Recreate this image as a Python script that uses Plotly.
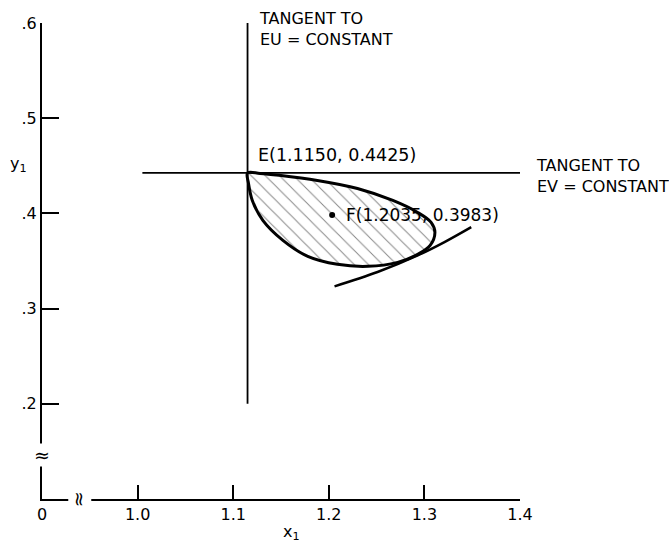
import plotly.graph_objects as go

# ---- data ----
x_tick_vals = [0.9, 1.0, 1.1, 1.2, 1.3, 1.4]
x_tick_text = ["0", "1.0", "1.1", "1.2", "1.3", "1.4"]
y_tick_vals = [0.2, 0.3, 0.4, 0.5, 0.6]
y_tick_text = [".2", ".3", ".4", ".5", ".6"]

point_E = (1.1150, 0.4425)
point_F = (1.2035, 0.3983)

# tangent to EU = constant (vertical) and EV = constant (horizontal)
eu_tangent_x = [1.115, 1.115]
eu_tangent_y = [0.200, 0.605]
ev_tangent_x = [1.005, 1.404]
ev_tangent_y = [0.4425, 0.4425]

# boundary of the shaded (feasible) region, clockwise from E
region_x = [1.115, 1.128, 1.148, 1.188, 1.230, 1.267, 1.293, 1.307, 1.311, 1.306,
            1.293, 1.272, 1.241, 1.209, 1.178, 1.152, 1.131, 1.120, 1.116, 1.115]
region_y = [0.4425, 0.4420, 0.4400, 0.4346, 0.4262, 0.4136, 0.4010, 0.3906, 0.3801,
            0.3664, 0.3570, 0.3486, 0.3444, 0.3465, 0.3549, 0.3717, 0.3927,
            0.4136, 0.4315, 0.4425]

# lower curve tangent to the region
curve_x = [1.206, 1.251, 1.293, 1.321, 1.349]
curve_y = [0.3234, 0.3384, 0.3559, 0.3699, 0.3856]

FONT = "DejaVu Sans"

fig = go.Figure()

fig.add_trace(go.Scatter(
    x=region_x, y=region_y, mode="lines", fill="toself",
    fillcolor="rgba(0,0,0,0)",
    fillpattern=dict(shape="\\", size=10, solidity=0.1, fgcolor="#111",
                     bgcolor="rgba(255,255,255,0)"),
    line=dict(color="black", width=3, shape="spline", smoothing=1.0),
    hoverinfo="skip", showlegend=False))

fig.add_trace(go.Scatter(
    x=curve_x, y=curve_y, mode="lines",
    line=dict(color="black", width=2.5, shape="spline"),
    showlegend=False))

fig.add_trace(go.Scatter(
    x=eu_tangent_x, y=eu_tangent_y, mode="lines",
    line=dict(color="black", width=1.8), showlegend=False, cliponaxis=False))
fig.add_trace(go.Scatter(
    x=ev_tangent_x, y=ev_tangent_y, mode="lines",
    line=dict(color="black", width=1.8), showlegend=False, cliponaxis=False))

fig.add_trace(go.Scatter(
    x=[point_F[0]], y=[point_F[1]], mode="markers",
    marker=dict(color="black", size=6), showlegend=False))

ann = []
ann.append(dict(x=0.450, y=1.0335, xref="paper", yref="paper", xanchor="left", yanchor="top",
                align="left", showarrow=False,
                text="TANGENT TO<br>EU = CONSTANT",
                font=dict(family=FONT, size=16, color="black")))
ann.append(dict(x=1.029, y=0.6786, xref="paper", yref="paper", xanchor="left", yanchor="middle",
                align="left", showarrow=False,
                text="TANGENT TO<br>EV = CONSTANT",
                font=dict(family=FONT, size=16, color="black")))
ann.append(dict(x=1.124, y=0.461, xref="x", yref="y", xanchor="left", yanchor="middle",
                showarrow=False,
                text="E(%.4f, %.4f)" % point_E,
                font=dict(family=FONT, size=17.5, color="black")))
ann.append(dict(x=1.2155, y=0.398, xref="x", yref="y", xanchor="left", yanchor="middle",
                showarrow=False,
                text="F(%.4f, %.4f)" % point_F,
                font=dict(family=FONT, size=17, color="black")))
# axis titles
ann.append(dict(x=-0.050, y=0.7017, xref="paper", yref="paper", xanchor="center", yanchor="middle",
                showarrow=False, text="y<sub>1</sub>",
                font=dict(family=FONT, size=16, color="black")))
ann.append(dict(x=0.523, y=-0.0714, xref="paper", yref="paper", xanchor="center", yanchor="middle",
                showarrow=False, text="x<sub>1</sub>",
                font=dict(family=FONT, size=16, color="black")))
# axis breaks
ann.append(dict(x=0.9, y=0.146, xref="x", yref="y", xanchor="center", yanchor="middle",
                showarrow=False, text="≈", bgcolor="white", borderpad=0,
                font=dict(family=FONT, size=19, color="black")))
ann.append(dict(x=0.9395, y=0.1, xref="x", yref="y", xanchor="center", yanchor="middle",
                showarrow=False, text="≈", textangle=90, bgcolor="white", borderpad=0,
                font=dict(family=FONT, size=19, color="black")))

fig.update_layout(
    width=669, height=544, autosize=False,
    margin=dict(l=42, r=149, t=23, b=45),
    paper_bgcolor="white", plot_bgcolor="white",
    annotations=ann,
    xaxis=dict(range=[0.9, 1.4], showgrid=False, zeroline=False,
               showline=True, linecolor="black", linewidth=2,
               ticks="inside", ticklen=14, tickwidth=2, tickcolor="black",
               tickvals=x_tick_vals, ticktext=x_tick_text,
               tickfont=dict(family=FONT, size=16, color="black")),
    yaxis=dict(range=[0.1, 0.6], showgrid=False, zeroline=False,
               showline=True, linecolor="black", linewidth=2,
               ticks="inside", ticklen=17, tickwidth=2, tickcolor="black",
               tickvals=y_tick_vals, ticktext=y_tick_text,
               tickfont=dict(family=FONT, size=16, color="black")),
)

fig.write_html("out.html", config={"displayModeBar": False},
               post_script="document.body.style.margin='0';document.body.style.overflow='hidden';")
